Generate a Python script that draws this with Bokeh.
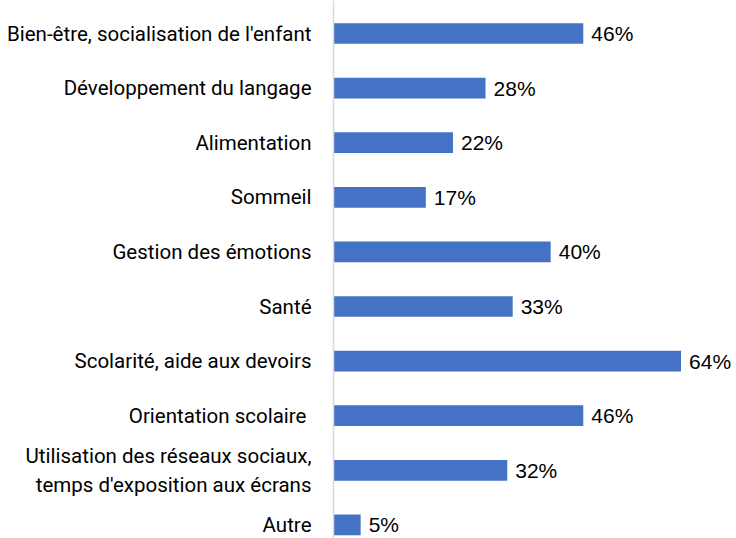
from bokeh.plotting import figure
from bokeh.models import ColumnDataSource, Range1d, Span
from bokeh.core.properties import value
from bokeh.embed import file_html
from bokeh.resources import INLINE

categories = [
    "Bien-être, socialisation de l'enfant",
    "Développement du langage",
    "Alimentation",
    "Sommeil",
    "Gestion des émotions",
    "Santé",
    "Scolarité, aide aux devoirs",
    "Orientation scolaire ",
    "Utilisation des réseaux sociaux,\ntemps d'exposition aux écrans",
    "Autre",
]
values = [46, 28, 22, 17, 40, 33, 64, 46, 32, 5]
value_labels = [f"{v}%" for v in values]
rows = list(range(len(categories)))

W, H = 736, 538
axis_px = 333.0
px_per_pct = 5.43
row_px = 54.6
first_row_px = 33.0

x_start = -axis_px / px_per_pct
x_end = (W - axis_px) / px_per_pct
y_top = -first_row_px / row_px
y_bottom = y_top + H / row_px

src = ColumnDataSource(dict(row=rows, val=values, cat=categories, lab=value_labels,
                            zero=[0] * len(values)))

p = figure(width=W, height=H, output_backend="svg", toolbar_location=None,
           x_range=Range1d(x_start, x_end), y_range=Range1d(y_bottom, y_top),
           min_border=0, min_border_left=0, min_border_right=0,
           min_border_top=0, min_border_bottom=0)
p.xaxis.visible = False
p.yaxis.visible = False
p.xgrid.visible = False
p.ygrid.visible = False
p.outline_line_color = None
p.background_fill_color = "white"
p.border_fill_color = "white"

p.hbar(y="row", left=0, right="val", height=0.38, source=src,
       fill_color="#4472C4", line_color=None)

p.add_layout(Span(location=0, dimension="height", line_color="#D9D9D9", line_width=1.5))

p.text(x="val", y="row", text="lab", source=src, x_offset=8,
       text_align="left", text_baseline="middle",
       text_font=value("Liberation Sans"), text_font_size="21px", text_color="#000000")

p.text(x="zero", y="row", text="cat", source=src, x_offset=-22,
       text_align="right", text_baseline="middle", text_line_height=1.2,
       text_font=value("Roboto"), text_font_size="20.5px", text_color="#000000")

open("out.html", "w").write(file_html(p, INLINE))
